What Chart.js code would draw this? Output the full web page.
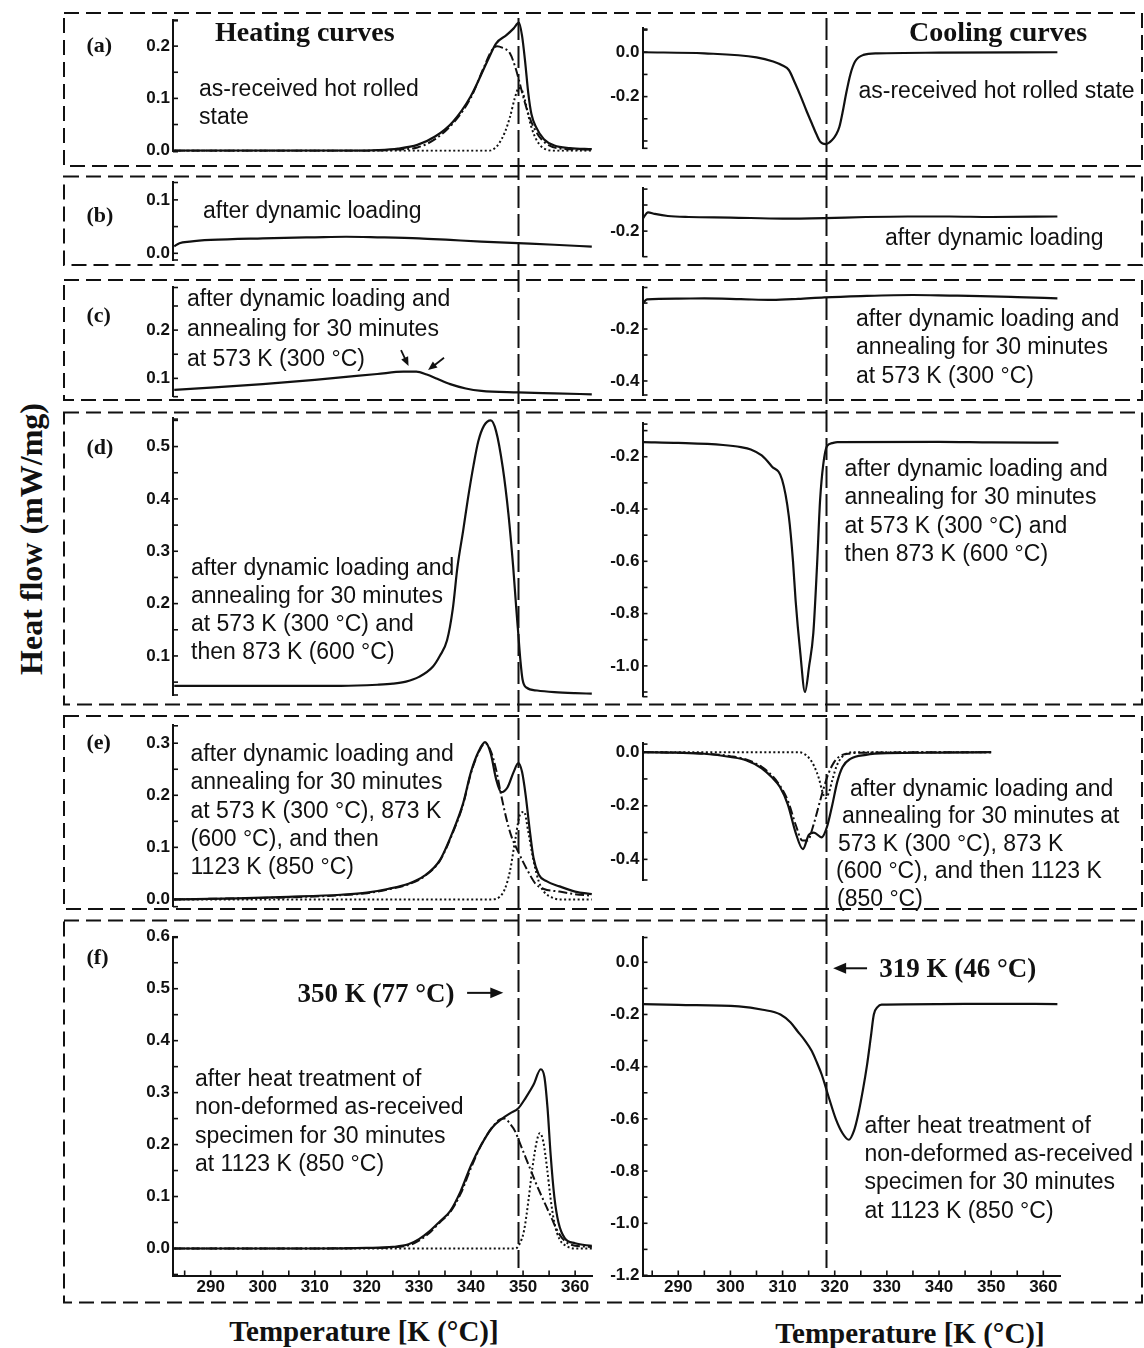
<!DOCTYPE html>
<html>
<head>
<meta charset="utf-8">
<script src="https://cdn.jsdelivr.net/npm/chart.js@4.4.1/dist/chart.umd.min.js"></script>
<style>
  body { margin: 0; background: #fff; }
  #page { position: relative; width: 1144px; height: 1348px; overflow: hidden; background: #fff; }
  #page canvas { position: absolute; }
  #frames { position: absolute; left: 0; top: 0; }
  .t { position: absolute; white-space: nowrap; color: #111; }
  .sans { font-family: "Liberation Sans", Arial, sans-serif; }
  .serif { font-family: "Liberation Serif", "Times New Roman", serif; font-weight: bold; }
</style>
</head>
<body>
<div id="page">
  <svg id="frames" width="1144" height="1348"></svg>
</div>
<script>
// ---- data: [temperature K, heat flow mW/mg] ----
const aHeatSolid = [[283,0],[300,0],[318,0],[322,0.001],[326,0.004],[329.7,0.011],[333.1,0.027],[336.5,0.055],[339.9,0.103],[343.4,0.177],[344.8,0.205],[346.8,0.221],[348.2,0.234],[349.2,0.245],[349.8,0.22],[350.4,0.17],[351,0.11],[351.6,0.07],[352.5,0.045],[354,0.022],[356,0.01],[359,0.005],[363.2,0.003]];
const aHeatDashDot = [[283,0],[318,0],[322,0],[326,0.002],[329.7,0.006],[333.1,0.022],[336.5,0.052],[339.9,0.1],[342.5,0.16],[344,0.192],[345,0.2],[346,0.197],[347.5,0.186],[348.5,0.16],[349.2,0.135],[350.2,0.097],[351.2,0.065],[352.3,0.04],[353.5,0.022],[355,0.01],[357,0.004],[363.2,0.002]];
const aHeatDotted = [[283,0],[343.5,0],[344.5,0.004],[345.4,0.014],[346.5,0.035],[347.5,0.065],[348.4,0.1],[349.2,0.12],[349.8,0.115],[350.4,0.095],[351,0.068],[351.6,0.045],[352.5,0.022],[353.5,0.008],[354.5,0.002],[356,0],[363.2,0]];
const aCoolSolid = [[283.3,0],[295,-0.005],[305,-0.023],[308.2,-0.042],[310,-0.06],[311.2,-0.08],[312.4,-0.14],[313.5,-0.2],[314.6,-0.265],[315.6,-0.32],[316.5,-0.37],[317.2,-0.403],[318.3,-0.414],[319.5,-0.396],[320.3,-0.37],[320.9,-0.336],[321.6,-0.26],[322.2,-0.185],[323,-0.1],[323.9,-0.042],[325.5,-0.012],[328.2,-0.005],[340,-0.002],[362.7,0]];

const bHeatSolid = [[283,0.013],[284,0.019],[286,0.022],[290,0.025],[300,0.028],[310,0.03],[316,0.031],[322,0.03],[330,0.028],[336,0.025],[342,0.022],[349,0.019],[356,0.016],[363.2,0.0125]];
const bCoolSolid = [[283.2,-0.176],[284.2,-0.164],[285.5,-0.167],[288,-0.171],[292,-0.173],[300,-0.174],[310,-0.176],[318,-0.175],[326,-0.173],[334,-0.172],[342,-0.172],[350,-0.173],[362.7,-0.172]];

const cHeatSolid = [[283,0.076],[290,0.081],[300,0.088],[310,0.097],[316,0.103],[322,0.109],[327,0.114],[329.5,0.114],[331.5,0.108],[333.5,0.099],[336,0.088],[339,0.079],[342,0.074],[349,0.071],[356,0.069],[363.2,0.067]];
const cCoolSolid = [[283.2,-0.101],[284,-0.086],[290,-0.083],[295,-0.082],[302,-0.085],[308,-0.088],[313,-0.084],[318,-0.078],[325,-0.073],[335,-0.069],[342,-0.071],[348,-0.073],[355,-0.077],[362.7,-0.082]];

const dHeatSolid = [[283,0.043],[300,0.043],[315,0.043],[322,0.045],[325,0.047],[327.5,0.051],[330,0.06],[332.7,0.08],[334,0.1],[335.4,0.13],[336.5,0.19],[337.4,0.27],[338.5,0.34],[339.4,0.4],[340.5,0.465],[341.4,0.51],[342.5,0.54],[343.8,0.55],[344.8,0.53],[346.1,0.46],[347.2,0.37],[348.1,0.27],[348.7,0.19],[349.1,0.14],[349.5,0.09],[349.9,0.055],[350.6,0.04],[352.7,0.034],[356,0.031],[360,0.029],[363.2,0.028]];
const dCoolSolid = [[283.3,-0.144],[290,-0.147],[298.6,-0.155],[302,-0.163],[303.9,-0.172],[306,-0.195],[307.9,-0.236],[309.9,-0.287],[311.2,-0.428],[312,-0.6],[312.5,-0.75],[313.4,-0.95],[314.3,-1.1],[315.1,-1.0],[315.9,-0.874],[316.6,-0.62],[317.2,-0.364],[317.8,-0.23],[318.5,-0.16],[319.5,-0.148],[320.5,-0.144],[340,-0.143],[350,-0.145],[362.9,-0.146]];

const eHeatSolid = [[283,0],[295,0.002],[305,0.005],[315,0.009],[320,0.013],[324,0.02],[328,0.03],[331,0.045],[334,0.075],[336.5,0.13],[338.5,0.185],[340,0.245],[341.5,0.285],[342.7,0.302],[343.8,0.28],[344.8,0.232],[345.8,0.206],[347,0.215],[348.2,0.245],[349.1,0.262],[349.8,0.245],[350.5,0.2],[351.2,0.14],[352,0.08],[353,0.048],[354.5,0.035],[357,0.025],[360,0.015],[363.2,0.01]];
const eHeatDashDot = [[283,0],[295,0.002],[305,0.004],[315,0.008],[320,0.012],[324,0.019],[328,0.029],[331,0.044],[334,0.074],[336.5,0.128],[338.5,0.183],[340,0.243],[341.5,0.283],[342.7,0.3],[343.8,0.285],[344.8,0.25],[345.8,0.2],[346.8,0.155],[347.8,0.12],[349,0.093],[350,0.072],[351,0.053],[352.4,0.03],[354,0.02],[357,0.015],[360,0.01],[363.2,0.007]];
const eHeatDotted = [[283,0],[344,0],[345.5,0.005],[346.5,0.02],[347.5,0.055],[348.5,0.115],[349.5,0.165],[350.2,0.168],[351,0.13],[352,0.075],[353,0.035],[354,0.015],[355.5,0.004],[357,0],[363.2,0]];
const eCoolSolid = [[283.2,0],[290,-0.002],[295,-0.006],[300,-0.018],[303,-0.03],[306,-0.06],[308,-0.095],[309.5,-0.13],[311,-0.195],[312.5,-0.3],[313.9,-0.362],[315,-0.31],[316,-0.3],[317.5,-0.318],[318.5,-0.28],[319.5,-0.2],[320.5,-0.11],[321.5,-0.055],[323,-0.025],[326,-0.01],[330,-0.004],[340,-0.002],[350,0]];
const eCoolDashDot = [[283.2,0],[290,-0.002],[295,-0.005],[300,-0.015],[303,-0.027],[306,-0.055],[308,-0.088],[309.5,-0.125],[311,-0.18],[312.5,-0.27],[313.8,-0.33],[314.8,-0.33],[315.8,-0.28],[316.8,-0.21],[317.8,-0.14],[318.8,-0.08],[319.8,-0.04],[321,-0.015],[323,-0.005],[326,-0.002],[350,0]];
const eCoolDotted = [[283.2,0],[313,0],[314,-0.005],[315,-0.02],[316,-0.05],[317,-0.1],[317.6,-0.145],[318.2,-0.172],[318.9,-0.15],[319.6,-0.1],[320.4,-0.05],[321.3,-0.02],[322.3,-0.005],[324,0],[350,0]];

const fHeatSolid = [[283,0],[310,0],[320,0.001],[325,0.003],[328,0.008],[330,0.018],[332,0.033],[334,0.052],[336,0.072],[338,0.11],[340,0.16],[342,0.2],[344,0.232],[346,0.25],[347.5,0.26],[349.1,0.27],[350.5,0.29],[352,0.315],[353.4,0.345],[354.1,0.33],[354.7,0.27],[355.3,0.18],[356,0.1],[356.8,0.05],[358,0.02],[360,0.01],[363.2,0.005]];
const fHeatDashDot = [[283,0],[310,0],[320,0.001],[325,0.002],[328,0.006],[330,0.015],[332,0.03],[334,0.05],[336,0.07],[338,0.105],[340,0.155],[342,0.2],[344,0.232],[345.5,0.248],[346.5,0.25],[347.5,0.24],[348.5,0.225],[349.5,0.2],[350.5,0.175],[351.5,0.15],[352.5,0.125],[353.5,0.102],[354.5,0.08],[355.5,0.058],[356.5,0.036],[357.5,0.02],[359,0.008],[363.2,0.003]];
const fHeatDotted = [[283,0],[348.5,0],[349.3,0.008],[350.2,0.035],[351,0.09],[351.8,0.155],[352.6,0.205],[353.2,0.222],[353.9,0.205],[354.6,0.155],[355.3,0.095],[356,0.05],[357,0.018],[358.5,0.004],[360,0],[363.2,0]];
const fCoolSolid = [[283.2,-0.16],[290,-0.163],[301.6,-0.169],[306.2,-0.182],[309.6,-0.2],[311.5,-0.23],[312.9,-0.265],[314.3,-0.3],[315.6,-0.34],[316.6,-0.385],[317.5,-0.43],[318.9,-0.52],[320.2,-0.6],[321.5,-0.655],[322.7,-0.68],[323.7,-0.645],[324.5,-0.583],[325.4,-0.49],[326.2,-0.393],[326.9,-0.29],[327.5,-0.2],[328.2,-0.172],[329,-0.162],[340,-0.16],[350,-0.159],[362.7,-0.16]];

// labelled y ticks per panel
const aHeatTicks = [0, 0.1, 0.2];
const aCoolTicks = [0, -0.2];
const bHeatTicks = [0, 0.1];
const bCoolTicks = [-0.2];
const cHeatTicks = [0.1, 0.2];
const cCoolTicks = [-0.2, -0.4];
const dHeatTicks = [0.1, 0.2, 0.3, 0.4, 0.5];
const dCoolTicks = [-0.2, -0.4, -0.6, -0.8, -1.0];
const eHeatTicks = [0, 0.1, 0.2, 0.3];
const eCoolTicks = [0, -0.2, -0.4];
const fHeatTicks = [0, 0.1, 0.2, 0.3, 0.4, 0.5, 0.6];
const fCoolTicks = [0, -0.2, -0.4, -0.6, -0.8, -1.0, -1.2];

// transition temperatures marked by the long dashed lines
const heatRefK = 349.1;
const coolRefK = 318.4;

// arrows, [from, to] in K / mW/mg
const cHeatArrows = [[[326.56, 0.1586], [328.0, 0.1255]], [[334.82, 0.1427], [331.75, 0.1172]]];
const fHeatArrows = [[[339.25, 0.492], [346.2, 0.492]]];
const fCoolArrows = [[[326.2, -0.023], [319.7, -0.023]]];

// ---- layout ----
const INK = '#111';
const LINE_TOP = 18, LINE_BOTTOM = 1268;
const page = document.getElementById('page');

const sides = {
  L: { x0: 100, x1: 600, plotL: 173, plotR: 592, tMin: 282.76, tMax: 363.24, ref: heatRefK },
  R: { x0: 580, x1: 1080, plotL: 642.5, plotR: 1060, tMin: 283.14, tMax: 363.2, ref: coolRefK }
};

const panels = [
  { side: 'L', band: [0, 171], plot: [20, 151.7], y: [-0.002, 0.25], step: 0.05, labels: aHeatTicks,
    sets: [[aHeatDotted, 'dot'], [aHeatDashDot, 'dashdot'], [aHeatSolid, 'solid']] },
  { side: 'R', band: [0, 171], plot: [28.3, 148.3], y: [-0.433, 0.108], step: 0.1, labels: aCoolTicks,
    sets: [[aCoolSolid, 'solid']] },
  { side: 'L', band: [171, 272], plot: [181.7, 260], y: [-0.0125, 0.134], step: 0.05, labels: bHeatTicks,
    sets: [[bHeatSolid, 'solid']] },
  { side: 'R', band: [171, 272], plot: [188.3, 256.7], y: [-0.249, -0.118], step: 0.05, labels: bCoolTicks,
    sets: [[bCoolSolid, 'solid']] },
  { side: 'L', band: [272, 406], plot: [286.7, 396.7], y: [0.062, 0.29], step: 0.05, labels: cHeatTicks,
    sets: [[cHeatSolid, 'solid']], arrows: cHeatArrows },
  { side: 'R', band: [272, 406], plot: [286.7, 395], y: [-0.454, -0.037], step: 0.1, labels: cCoolTicks,
    sets: [[cCoolSolid, 'solid']] },
  { side: 'L', band: [406, 710], plot: [418.3, 695], y: [0.0254, 0.554], step: 0.05, labels: dHeatTicks,
    sets: [[dHeatSolid, 'solid']] },
  { side: 'R', band: [406, 710], plot: [423.3, 696.7], y: [-1.118, -0.072], step: 0.1, labels: dCoolTicks,
    sets: [[dCoolSolid, 'solid']] },
  { side: 'L', band: [710, 915], plot: [725, 906.7], y: [-0.014, 0.335], step: 0.05, labels: eHeatTicks,
    sets: [[eHeatDotted, 'dot'], [eHeatDashDot, 'dashdot'], [eHeatSolid, 'solid']] },
  { side: 'R', band: [710, 915], plot: [743.3, 880], y: [-0.477, 0.033], step: 0.1, labels: eCoolTicks,
    sets: [[eCoolDotted, 'dot'], [eCoolDashDot, 'dashdot'], [eCoolSolid, 'solid']] },
  { side: 'L', band: [915, 1310], plot: [936.7, 1275.5], y: [-0.052, 0.6001], step: 0.05, labels: fHeatTicks, showX: true,
    sets: [[fHeatDotted, 'dot'], [fHeatDashDot, 'dashdot'], [fHeatSolid, 'solid']], arrows: fHeatArrows },
  { side: 'R', band: [915, 1310], plot: [936.7, 1275.5], y: [-1.2001, 0.098], step: 0.1, labels: fCoolTicks, showX: true,
    sets: [[fCoolSolid, 'solid']], arrows: fCoolArrows }
];

// dashed frames round each row
const frames = [[13, 166], [176.5, 265], [280, 400], [412.5, 704.5], [716, 909], [920.5, 1302.5]];
const svg = document.getElementById('frames');
frames.forEach(([top, bottom]) => {
  const r = document.createElementNS('http://www.w3.org/2000/svg', 'rect');
  r.setAttribute('x', 64); r.setAttribute('y', top);
  r.setAttribute('width', 1142 - 64); r.setAttribute('height', bottom - top);
  r.setAttribute('fill', 'none'); r.setAttribute('stroke', INK);
  r.setAttribute('stroke-width', 2); r.setAttribute('stroke-dasharray', '15 7');
  svg.appendChild(r);
});

const tickFont = { family: '"Liberation Sans", Arial, sans-serif', size: 17, weight: 'bold', lineHeight: 1 };

function lineSet(points, style) {
  return {
    data: points.map(p => ({ x: p[0], y: p[1] })),
    borderColor: INK,
    borderWidth: style === 'solid' ? 2.2 : 2,
    borderDash: style === 'dashdot' ? [9, 3, 2, 3] : style === 'dot' ? [2, 2.5] : [],
    pointRadius: 0,
    fill: false,
    cubicInterpolationMode: 'monotone'
  };
}

function drawArrow(ctx, x1, y1, x2, y2, head) {
  const ang = Math.atan2(y2 - y1, x2 - x1);
  ctx.lineWidth = head > 10 ? 2 : 1.8;
  ctx.beginPath();
  ctx.moveTo(x1, y1);
  ctx.lineTo(x2 - Math.cos(ang) * head * 0.8, y2 - Math.sin(ang) * head * 0.8);
  ctx.stroke();
  ctx.beginPath();
  ctx.moveTo(x2, y2);
  ctx.lineTo(x2 - head * Math.cos(ang) + head * 0.42 * Math.sin(ang), y2 - head * Math.sin(ang) - head * 0.42 * Math.cos(ang));
  ctx.lineTo(x2 - head * Math.cos(ang) - head * 0.42 * Math.sin(ang), y2 - head * Math.sin(ang) + head * 0.42 * Math.cos(ang));
  ctx.closePath();
  ctx.fill();
}

function decor(p, s) {
  return {
    id: 'decor',
    afterDatasetsDraw(chart) {
      const { ctx, chartArea: a, scales: { x, y } } = chart;
      ctx.save();
      ctx.strokeStyle = INK;
      ctx.fillStyle = INK;
      ctx.lineWidth = 1.6;
      // inward tick marks + end caps on the y axis
      const ys = y.ticks.map(t => y.getPixelForValue(t.value)).concat([a.top + 0.8, a.bottom]);
      ys.forEach(py => {
        ctx.beginPath(); ctx.moveTo(a.left, py); ctx.lineTo(a.left + 5, py); ctx.stroke();
      });
      if (p.showX) {
        x.ticks.forEach(t => {
          const px = x.getPixelForValue(t.value);
          ctx.beginPath(); ctx.moveTo(px, a.bottom); ctx.lineTo(px, a.bottom - 5); ctx.stroke();
        });
      }
      (p.arrows || []).forEach(([from, to]) => {
        drawArrow(ctx, x.getPixelForValue(from[0]), y.getPixelForValue(from[1]),
          x.getPixelForValue(to[0]), y.getPixelForValue(to[1]), p.showX ? 13 : 9);
      });
      // long dashed reference line, phase kept continuous across rows
      const startPage = Math.max(p.band[0], LINE_TOP);
      const endPage = Math.min(p.band[1], LINE_BOTTOM);
      const rx = Math.round(x.getPixelForValue(s.ref)) + 0.5;
      ctx.setLineDash([22, 6]);
      ctx.lineDashOffset = startPage - LINE_TOP;
      ctx.lineWidth = 2;
      ctx.beginPath();
      ctx.moveTo(rx, startPage - p.band[0]);
      ctx.lineTo(rx, endPage - p.band[0]);
      ctx.stroke();
      ctx.restore();
    }
  };
}

panels.forEach(p => {
  const s = sides[p.side];
  const canvas = document.createElement('canvas');
  const w = s.x1 - s.x0, h = p.band[1] - p.band[0];
  canvas.width = w; canvas.height = h;
  canvas.style.left = s.x0 + 'px'; canvas.style.top = p.band[0] + 'px';
  canvas.style.width = w + 'px'; canvas.style.height = h + 'px';
  page.appendChild(canvas);
  const xAxisH = p.showX ? 30 : 0;

  new Chart(canvas, {
    type: 'line',
    data: { datasets: p.sets.map(([pts, style]) => lineSet(pts, style)) },
    options: {
      responsive: false,
      animation: false,
      devicePixelRatio: 1,
      layout: { padding: { left: 0, right: s.x1 - s.plotR, top: p.plot[0] - p.band[0], bottom: p.band[1] - p.plot[1] - xAxisH } },
      plugins: { legend: { display: false }, tooltip: { enabled: false } },
      scales: {
        x: {
          type: 'linear',
          min: s.tMin, max: s.tMax,
          display: !!p.showX,
          grid: { display: true, drawOnChartArea: false, drawTicks: false },
          border: { display: !!p.showX, width: 2, color: INK },
          ticks: {
            stepSize: 5, autoSkip: false, maxRotation: 0, includeBounds: false,
            padding: 3, color: INK, font: tickFont,
            callback: v => (v % 10 === 0 ? String(v) : '')
          },
          afterFit: sc => {
            if (p.showX) sc.height = xAxisH;
            sc.paddingLeft = 0; sc.paddingRight = 0;
          }
        },
        y: {
          type: 'linear',
          min: p.y[0], max: p.y[1],
          grid: { display: true, drawOnChartArea: false, drawTicks: false },
          border: { display: true, width: 2, color: INK },
          ticks: {
            stepSize: p.step, autoSkip: false, includeBounds: false,
            padding: 3, color: INK, font: tickFont,
            callback: v => (p.labels.some(l => Math.abs(l - v) < 1e-6) ? v.toFixed(1) : '')
          },
          afterFit: sc => {
            sc.width = s.plotL - s.x0;
            sc.paddingTop = 0; sc.paddingBottom = 0;
          }
        }
      }
    },
    plugins: [decor(p, s)]
  });
});

// ---- text ----
const SANS = 23, SANS_LH = 28.3;
const notes = [
  [199, 88, 28.5, ['as-received hot rolled', 'state']],
  [858.5, 90, SANS_LH, ['as-received hot rolled state']],
  [203, 210, SANS_LH, ['after dynamic loading']],
  [885, 236.7, SANS_LH, ['after dynamic loading']],
  [187, 298.3, 30, ['after dynamic loading and', 'annealing for 30 minutes', 'at 573 K (300 °C)']],
  [856, 318.3, SANS_LH, ['after dynamic loading and', 'annealing for 30 minutes', 'at 573 K (300 °C)']],
  [191, 566.7, SANS_LH, ['after dynamic loading and', 'annealing for 30 minutes', 'at 573 K (300 °C) and', 'then 873 K (600 °C)']],
  [844.5, 468.3, SANS_LH, ['after dynamic loading and', 'annealing for 30 minutes', 'at 573 K (300 °C) and', 'then 873 K (600 °C)']],
  [190.5, 753.3, SANS_LH, ['after dynamic loading and', 'annealing for 30 minutes', 'at 573 K (300 °C), 873 K', '(600 °C), and then', '1123 K  (850 °C)']],
  [850, 788.3, 27.5, ['after dynamic loading and']],
  [842, 815.8, 27.5, ['annealing for 30 minutes at']],
  [838, 843.3, 27.5, ['573 K (300 °C), 873 K']],
  [836, 870.8, 27.5, ['(600 °C), and then 1123 K']],
  [837, 898.3, 27.5, ['(850 °C)']],
  [195, 1078.3, SANS_LH, ['after heat treatment of', 'non-deformed as-received', 'specimen for 30 minutes', 'at 1123 K (850 °C)']],
  [864.5, 1125, SANS_LH, ['after heat treatment of', 'non-deformed as-received', 'specimen for 30 minutes', 'at 1123 K (850 °C)']]
];

function addText(txt, left, centerY, cls, size, lh, extra) {
  const d = document.createElement('div');
  d.className = 't ' + cls;
  d.style.left = left + 'px';
  d.style.top = (centerY - lh / 2) + 'px';
  d.style.fontSize = size + 'px';
  d.style.lineHeight = lh + 'px';
  d.textContent = txt;
  if (extra) Object.assign(d.style, extra);
  page.appendChild(d);
  return d;
}

notes.forEach(([left, cy, lh, lines]) => {
  lines.forEach((ln, i) => addText(ln, left, cy + i * lh, 'sans', SANS, lh));
});

addText('Heating curves', 215, 31.5, 'serif', 28, 28);
addText('Cooling curves', 909, 31.5, 'serif', 28, 28);
[['(a)', 45], ['(b)', 215], ['(c)', 315], ['(d)', 446.7], ['(e)', 741.7], ['(f)', 956.7]]
  .forEach(([t, cy]) => addText(t, 86.5, cy, 'serif', 22, 22));
addText('350 K (77 °C)', 297.5, 993.3, 'serif', 27, 27);
addText('319 K (46 °C)', 879.3, 968.3, 'serif', 27, 27);
addText('Temperature [K (°C)]', 364, 1331, 'serif', 29, 29, { transform: 'translateX(-50%)' });
addText('Temperature [K (°C)]', 910, 1333, 'serif', 29, 29, { transform: 'translateX(-50%)' });
addText('Heat flow (mW/mg)', 31, 539, 'serif', 32, 32, { transform: 'translate(-50%, 0) rotate(-90deg)', transformOrigin: '50% 50%' });
</script>
</body>
</html>
